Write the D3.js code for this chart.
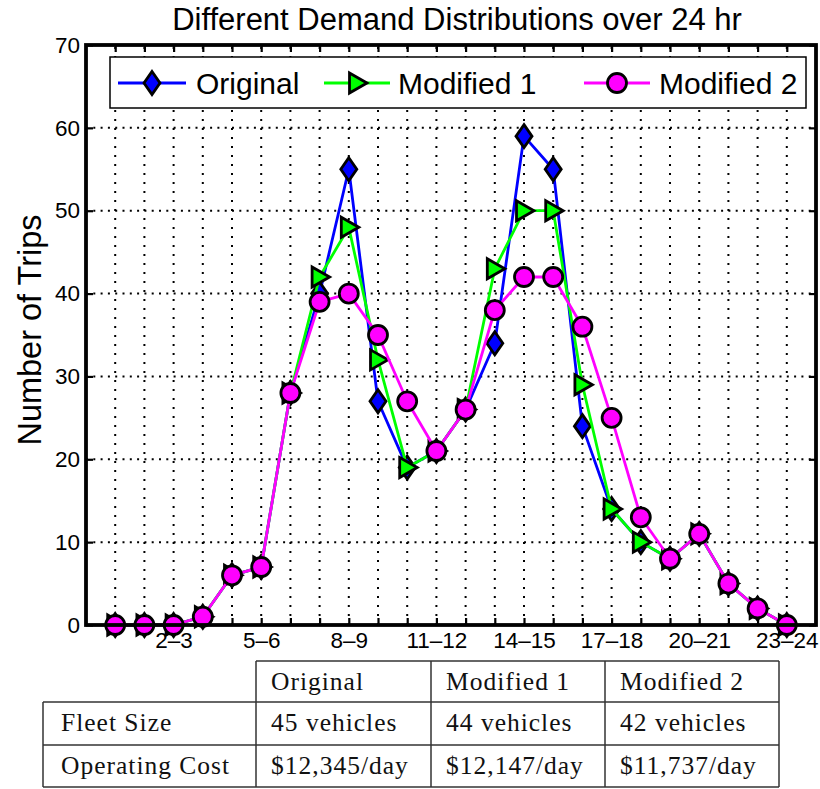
<!DOCTYPE html>
<html>
<head>
<meta charset="utf-8">
<script src="https://cdn.jsdelivr.net/npm/d3@7/dist/d3.min.js"></script>
<style>
  html, body { margin: 0; padding: 0; background: #fff; }
  svg { display: block; }
</style>
</head>
<body>
<svg id="chart" width="820" height="789"></svg>
<script>
// ---------- data ----------
const hours = ["0–1","1–2","2–3","3–4","4–5","5–6","6–7","7–8","8–9","9–10","10–11","11–12",
               "12–13","13–14","14–15","15–16","16–17","17–18","18–19","19–20","20–21","21–22","22–23","23–24"];
const original  = [0,0,0,1,6,7,28,40,55,27,19,21,26,34,59,55,24,14,10,8,11,5,2,0];
const modified1 = [0,0,0,1,6,7,28,42,48,32,19,21,26,43,50,50,29,14,10,8,11,5,2,0];
const modified2 = [0,0,0,1,6,7,28,39,40,35,27,21,26,38,42,42,36,25,13,8,11,5,2,0];
const seriesNames = ["Original","Modified 1","Modified 2"];
const labeledHours = ["2–3","5–6","8–9","11–12","14–15","17–18","20–21","23–24"];
const yTicks = [0,10,20,30,40,50,60,70];
const tableHeader = ["Original","Modified 1","Modified 2"];
const tableRowLabels = ["Fleet Size","Operating Cost"];
const fleetSize = ["45 vehicles","44 vehicles","42 vehicles"];
const operatingCost = ["$12,345/day","$12,147/day","$11,737/day"];

// ---------- layout ----------
const svg = d3.select("#chart");
const L = 86, R = 816, T = 45, B = 625;
const x = d3.scaleLinear().domain([0, 25]).range([L, R]);
const y = d3.scaleLinear().domain([0, 70]).range([B, T]);
const sans = "'Liberation Sans', Arial, Helvetica, sans-serif";
const serif = "'Liberation Serif', 'Times New Roman', serif";

const colors = ["#0000ff", "#00ff00", "#ff00ff"];
const shapes = [
  "M0,-11.5L8,0L0,11.5L-8,0Z",
  "M-7.5,-10L10,0L-7.5,10Z",
  d3.symbol().type(d3.symbolCircle).size(Math.PI * 9.5 * 9.5)()
];

// title
svg.append("text")
  .attr("x", 457).attr("y", 30)
  .attr("text-anchor", "middle")
  .attr("font-family", sans).attr("font-size", 31)
  .text("Different Demand Distributions over 24 hr");

// y label
svg.append("text")
  .attr("transform", `translate(41,${330}) rotate(-90)`)
  .attr("text-anchor", "middle")
  .attr("font-family", sans).attr("font-size", 32.5)
  .text("Number of Trips");

// grid
const xIdx = hours.map((h, i) => i + 1);
const grid = svg.append("g");
grid.selectAll("line.v").data(xIdx).join("line")
  .attr("x1", d => x(d)).attr("x2", d => x(d))
  .attr("y1", B).attr("y2", T)
  .attr("stroke", "#000").attr("stroke-width", 2)
  .attr("stroke-dasharray", "2,7");
grid.selectAll("line.h").data(yTicks.slice(1, -1)).join("line")
  .attr("x1", L).attr("x2", R)
  .attr("y1", d => y(d)).attr("y2", d => y(d))
  .attr("stroke", "#000").attr("stroke-width", 2)
  .attr("stroke-dasharray", "2,5.3");

// axes
const fmtX = d => labeledHours.includes(hours[d - 1]) ? hours[d - 1] : "";
function styleAxis(g) {
  g.select(".domain").remove();
  g.selectAll(".tick line").attr("stroke", "#000").attr("stroke-width", 2.2);
  g.selectAll("text").attr("font-family", sans).attr("font-size", 22.5).attr("fill", "#000");
}
svg.append("g").attr("transform", `translate(0,${B})`)
  .call(d3.axisBottom(x).tickValues(xIdx).tickSize(-7).tickPadding(7).tickFormat(fmtX))
  .call(styleAxis);
svg.append("g").attr("transform", `translate(0,${T})`)
  .call(d3.axisTop(x).tickValues(xIdx).tickSize(-7).tickFormat(""))
  .call(styleAxis);
svg.append("g").attr("transform", `translate(${L},0)`)
  .call(d3.axisLeft(y).tickValues(yTicks).tickSize(-7).tickPadding(6).tickFormat(d3.format("d")))
  .call(styleAxis);
svg.append("g").attr("transform", `translate(${R},0)`)
  .call(d3.axisRight(y).tickValues(yTicks).tickSize(-7).tickFormat(""))
  .call(styleAxis);

// series
const allSeries = [original, modified1, modified2];
const line = d3.line().x((d, i) => x(i + 1)).y(d => y(d));
allSeries.forEach((vals, s) => {
  const g = svg.append("g");
  g.append("path").attr("d", line(vals))
    .attr("fill", "none").attr("stroke", colors[s]).attr("stroke-width", 2.8)
    .attr("stroke-linejoin", "round");
  g.selectAll("path.m").data(vals).join("path")
    .attr("d", shapes[s])
    .attr("transform", (d, i) => `translate(${x(i + 1)},${y(d)})`)
    .attr("fill", colors[s]).attr("stroke", "#000").attr("stroke-width", 2.8)
    .attr("stroke-linejoin", "miter");
});

// axis box
svg.append("rect").attr("x", L).attr("y", T).attr("width", R - L).attr("height", B - T)
  .attr("fill", "none").attr("stroke", "#000").attr("stroke-width", 3.8);

// legend
const leg = svg.append("g");
leg.append("rect").attr("x", 110).attr("y", 57).attr("width", 696).attr("height", 51)
  .attr("fill", "#fff").attr("stroke", "#000").attr("stroke-width", 1.5);
const legItems = [
  { lx1: 118, lx2: 186, tx: 196 },
  { lx1: 324, lx2: 390, tx: 398 },
  { lx1: 584, lx2: 650, tx: 659 }
];
legItems.forEach((it, s) => {
  const cy = 83;
  leg.append("line").attr("x1", it.lx1).attr("x2", it.lx2).attr("y1", cy).attr("y2", cy)
    .attr("stroke", colors[s]).attr("stroke-width", 2.8);
  leg.append("path").attr("d", shapes[s])
    .attr("transform", `translate(${(it.lx1 + it.lx2) / 2},${cy})`)
    .attr("fill", colors[s]).attr("stroke", "#000").attr("stroke-width", 2.8);
  leg.append("text").attr("x", it.tx).attr("y", cy + 11)
    .attr("font-family", sans).attr("font-size", 30)
    .text(seriesNames[s]);
});

// table
const colX = [43, 256, 431, 605, 779];
const rowY = [661, 702, 745, 787];
const tbl = svg.append("g");
const tStroke = "#333";
tbl.append("line").attr("x1", colX[1]).attr("x2", colX[4]).attr("y1", rowY[0]).attr("y2", rowY[0]);
[1, 2, 3].forEach(r => tbl.append("line").attr("x1", colX[0]).attr("x2", colX[4]).attr("y1", rowY[r]).attr("y2", rowY[r]));
tbl.append("line").attr("x1", colX[0]).attr("x2", colX[0]).attr("y1", rowY[1]).attr("y2", rowY[3]);
[1, 2, 3, 4].forEach(c => tbl.append("line").attr("x1", colX[c]).attr("x2", colX[c]).attr("y1", rowY[0]).attr("y2", rowY[3]));
tbl.selectAll("line").attr("stroke", tStroke).attr("stroke-width", 1.5);

const cellText = (txt, cx, by) => tbl.append("text").attr("x", cx).attr("y", by)
  .attr("font-family", serif).attr("font-size", 25.5).attr("letter-spacing", 1)
  .attr("fill", "#111").text(txt);
tableHeader.forEach((t, i) => cellText(t, colX[i + 1] + 15, 690));
cellText(tableRowLabels[0], colX[0] + 18, 731);
fleetSize.forEach((t, i) => cellText(t, colX[i + 1] + 15, 731));
cellText(tableRowLabels[1], colX[0] + 18, 774);
operatingCost.forEach((t, i) => cellText(t, colX[i + 1] + 15, 774));
</script>
</body>
</html>
